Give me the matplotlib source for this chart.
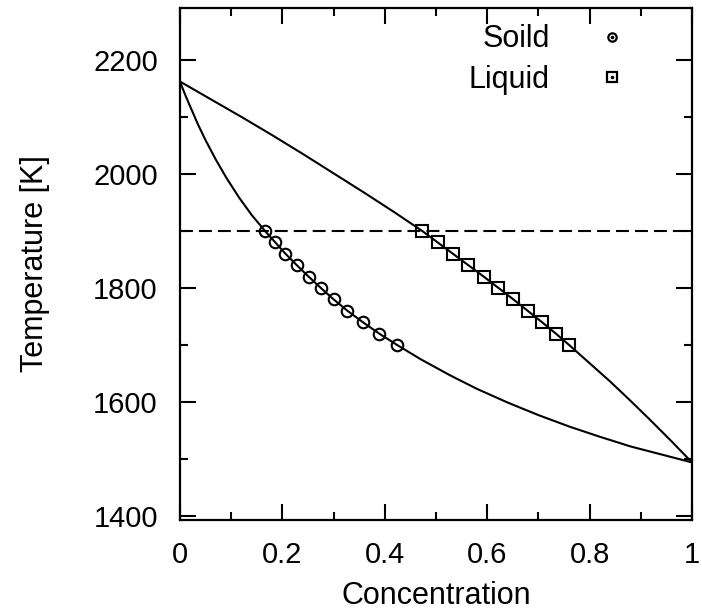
import matplotlib
matplotlib.use("Agg")
import matplotlib.pyplot as plt
from matplotlib.lines import Line2D
from matplotlib.ticker import MultipleLocator

plt.rcParams["font.family"] = ["Liberation Sans", "DejaVu Sans"]

# Solidus boundary (concentration, temperature in K)
solidus_c = [0.0, 0.010, 0.020, 0.035, 0.050, 0.070, 0.090, 0.115, 0.140,
             0.166, 0.186, 0.206, 0.228, 0.251, 0.275, 0.300, 0.327, 0.357, 0.389,
             0.424, 0.470, 0.527, 0.580, 0.640, 0.700, 0.760, 0.820, 0.880, 0.940, 1.0]
solidus_T = [2162, 2139, 2118, 2087, 2059, 2025, 1994, 1959, 1928,
             1900, 1880, 1860, 1840, 1820, 1800, 1780, 1760, 1740, 1720,
             1700, 1675, 1647, 1623, 1599, 1577, 1557, 1539, 1522, 1508, 1494]

# Liquidus boundary (concentration, temperature in K)
liquidus_c = [0.0, 0.060, 0.120, 0.180, 0.240, 0.300, 0.360, 0.420,
              0.473, 0.503, 0.533, 0.563, 0.593, 0.622, 0.651, 0.679, 0.707, 0.734,
              0.760, 0.800, 0.840, 0.880, 0.920, 0.960, 1.0]
liquidus_T = [2162, 2131, 2100, 2068, 2035, 2001, 1967, 1932,
              1900, 1880, 1860, 1840, 1820, 1800, 1780, 1760, 1740, 1720,
              1700, 1668, 1636, 1602, 1567, 1531, 1494]

# Equilibrium compositions sampled every 20 K
sample_T = [1900, 1880, 1860, 1840, 1820, 1800, 1780, 1760, 1740, 1720, 1700]
solid_c = [0.166, 0.186, 0.206, 0.228, 0.251, 0.275, 0.300, 0.327, 0.357, 0.389, 0.424]
liquid_c = [0.473, 0.503, 0.533, 0.563, 0.593, 0.622, 0.651, 0.679, 0.707, 0.734, 0.760]

isotherm_T = 1900

fig = plt.figure(figsize=(7.02, 6.14), dpi=100)
ax = fig.add_axes([180 / 702, 1 - 520 / 614, 512 / 702, 512 / 614])

lw = 1.5
ax.plot(solidus_c, solidus_T, color="black", lw=lw, zorder=3)
ax.plot(liquidus_c, liquidus_T, color="black", lw=lw, zorder=3)
iso = ax.axhline(isotherm_T, color="black", lw=lw, zorder=2)
iso.set_dashes((6.2, 2.9))

ax.plot(solid_c, sample_T, linestyle="none", marker="o", ms=8.3, mfc="none",
        mec="black", mew=1.5, zorder=4)
ax.plot(liquid_c, sample_T, linestyle="none", marker="s", ms=8.8, mfc="none",
        mec="black", mew=1.5, zorder=4)

ax.set_xlim(0, 1)
ax.set_ylim(1393, 2291)
ax.xaxis.set_minor_locator(MultipleLocator(0.1))
ax.yaxis.set_major_locator(MultipleLocator(200))
ax.yaxis.set_minor_locator(MultipleLocator(100))
ax.set_xticks([0, 0.2, 0.4, 0.6, 0.8, 1.0])
ax.set_xticklabels(["0", "0.2", "0.4", "0.6", "0.8", "1"])

ax.tick_params(which="both", direction="in", top=True, right=True,
               width=1.5, colors="black", labelsize=21)
ax.tick_params(which="major", length=11.5)
ax.tick_params(which="minor", length=5.8)
ax.tick_params(axis="x", pad=15)
ax.tick_params(axis="y", pad=16)
for sp in ax.spines.values():
    sp.set_linewidth(1.6)

ax.set_xlabel("Concentration", fontsize=22, labelpad=9)
ax.set_ylabel("Temperature [K]", fontsize=22, labelpad=31)

# Key: symbols placed after the labels, each with a centre dot
def key_handle(marker, size):
    outer = Line2D([], [], linestyle="none", marker=marker, ms=size, mfc="none",
                   mec="black", mew=1.6)
    dot = Line2D([], [], linestyle="none", marker="o", ms=1.6, mfc="black",
                 mec="black")
    return (outer, dot)

leg = ax.legend([key_handle("o", 6), key_handle("s", 6.5)], ["Soild", "Liquid"],
                loc="upper right", bbox_to_anchor=(0.891, 0.986), frameon=False,
                markerfirst=False, fontsize=22, handlelength=1.0,
                handletextpad=1.53, labelspacing=0.35, borderaxespad=0,
                borderpad=0.3)

fig.savefig("out.png", dpi=100)
